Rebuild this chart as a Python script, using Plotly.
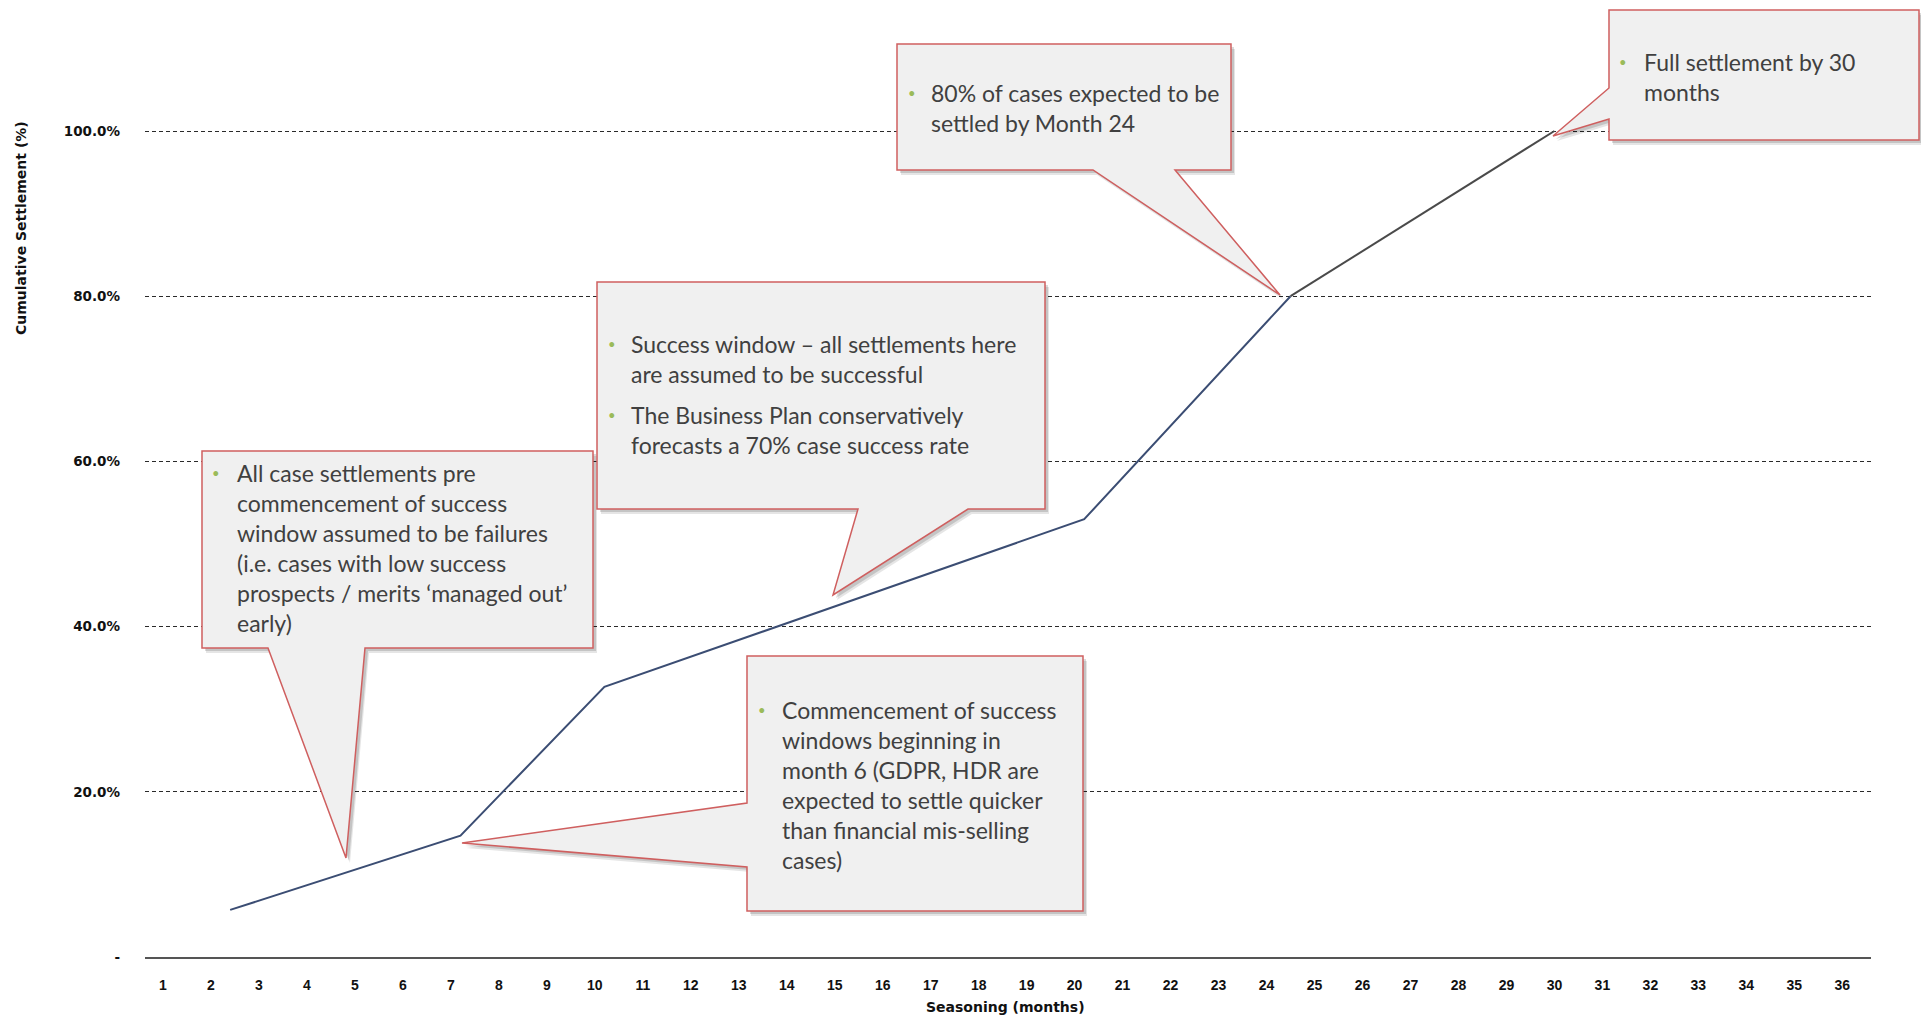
import plotly.graph_objects as go

# ---------------- data ----------------
months_early = [2.4, 7.2, 10.2, 20.2, 24.5]
settled_early = [0.057, 0.147, 0.327, 0.530, 0.800]
months_late = [24.5, 30.0]
settled_late = [0.800, 1.000]

x_ticks = list(range(1, 37))
y_ticks = [0, 0.2, 0.4, 0.6, 0.8, 1.0]
y_tick_labels = ["-", "20.0%", "40.0%", "60.0%", "80.0%", "100.0%"]

x_title = "Seasoning (months)"
y_title = "Cumulative Settlement (%)"

callout_texts = {
    "A": [["All case settlements pre", "commencement of success", "window assumed to be failures",
           "(i.e. cases with low success", "prospects / merits \u2018managed out\u2019", "early)"]],
    "B": [["Success window \u2013 all settlements here", "are assumed to be successful"],
          ["The Business Plan conservatively", "forecasts a 70% case success rate"]],
    "C": [["Commencement of success", "windows beginning in", "month 6 (GDPR, HDR are",
           "expected to settle quicker", "than financial mis-selling", "cases)"]],
    "D": [["80% of cases expected to be", "settled by Month 24"]],
    "E": [["Full settlement by 30", "months"]],
}

# ---------------- layout geometry (pixels) ----------------
W, H = 1921, 1018
L, R, T, B = 145, 50, 10, 61
PW, PH = W - L - R, H - T - B
px_per_unit = 826.0


def xp(p):
    return (p - L) / PW


def yp(p):
    return (H - B - p) / PH


callout_geom = {
    "A": dict(poly=[(202, 451), (593, 451), (593, 648), (365, 648), (346, 858), (268, 648), (202, 648)],
              bx=216, tx=235, lines=[[473, 503, 533, 563, 593, 623]]),
    "B": dict(poly=[(597, 282), (1045, 282), (1045, 509), (968, 509), (833, 595), (858, 509), (597, 509)],
              bx=612, tx=629, lines=[[344, 374], [415, 445]]),
    "C": dict(poly=[(747, 656), (1083, 656), (1083, 911), (747, 911), (747, 867), (462, 843), (747, 803)],
              bx=762, tx=780, lines=[[710, 740, 770, 800, 830, 860]]),
    "D": dict(poly=[(897, 44), (1231, 44), (1231, 170), (1175, 170), (1280, 295), (1093, 170), (897, 170)],
              bx=912, tx=929, lines=[[93, 123]]),
    "E": dict(poly=[(1609, 10), (1919, 10), (1919, 140), (1609, 140), (1609, 119), (1553, 136), (1609, 88)],
              bx=1623, tx=1642, lines=[[62, 92]]),
}

fig = go.Figure()
fig.add_trace(go.Scatter(x=months_early, y=settled_early, mode="lines",
                         line=dict(color="#3b4d73", width=2), showlegend=False, hoverinfo="skip"))
fig.add_trace(go.Scatter(x=months_late, y=settled_late, mode="lines",
                         line=dict(color="#4a4a4a", width=2), showlegend=False, hoverinfo="skip"))


def path_of(pts, dx=0, dy=0):
    return "M " + " L ".join(f"{xp(a + dx):.5f},{yp(b + dy):.5f}" for a, b in pts) + " Z"


shapes = []
annotations = []
for key, g in callout_geom.items():
    for (dx, dy, op) in [(4, 5, 0.10), (3, 3, 0.14)]:
        shapes.append(dict(type="path", xref="paper", yref="paper", path=path_of(g["poly"], dx, dy),
                           fillcolor=f"rgba(0,0,0,{op})", line=dict(width=0), layer="above"))
    shapes.append(dict(type="path", xref="paper", yref="paper", path=path_of(g["poly"]),
                       fillcolor="#f0f0f0", line=dict(color="#cf5f5f", width=1.5), layer="above"))
    for para, ys in zip(callout_texts[key], g["lines"]):
        annotations.append(dict(xref="paper", yref="paper", x=xp(g["bx"]), y=yp(ys[0]), text="\u2022",
                                showarrow=False, xanchor="center", yanchor="middle",
                                font=dict(family="Lato", size=13, color="#9bbb59")))
        for line_text, yy in zip(para, ys):
            annotations.append(dict(xref="paper", yref="paper", x=xp(g["tx"]), y=yp(yy), text=line_text,
                                    showarrow=False, xanchor="left", yanchor="middle",
                                    font=dict(family="Lato", size=23, color="#404040")))

annotations.append(dict(xref="paper", yref="paper", x=xp(21), y=yp(228), text=y_title, textangle=-90,
                        showarrow=False, xanchor="center", yanchor="middle",
                        font=dict(family="DejaVu Sans", size=14, color="#111111", weight="bold")))
annotations.append(dict(xref="paper", yref="paper", x=xp(1005), y=yp(1007), text=x_title,
                        showarrow=False, xanchor="center", yanchor="middle",
                        font=dict(family="DejaVu Sans", size=14, color="#111111", weight="bold")))

x_min = 1 + (L - 163) / 47.98
x_max = 1 + (W - R - 163) / 47.98

fig.update_layout(
    width=W, height=H, autosize=False,
    margin=dict(l=L, r=R, t=T, b=B),
    paper_bgcolor="white", plot_bgcolor="white",
    shapes=shapes, annotations=annotations,
    xaxis=dict(range=[x_min, x_max], tickvals=x_ticks, ticktext=[str(v) for v in x_ticks],
               showgrid=False, zeroline=False, showline=True, linecolor="#555555", linewidth=2,
               ticks="", ticklabelstandoff=14,
               tickfont=dict(family="Liberation Sans", size=14, color="#111111", weight="bold")),
    yaxis=dict(range=[0, PH / px_per_unit], tickvals=y_ticks, ticktext=y_tick_labels,
               showgrid=True, gridcolor="#2a2a2a", gridwidth=1, griddash="4px,3px",
               zeroline=False, showline=False, ticks="", ticklabelstandoff=24,
               tickfont=dict(family="DejaVu Sans", size=13.5, color="#111111", weight="bold")),
)

fig.write_html("out.html")
